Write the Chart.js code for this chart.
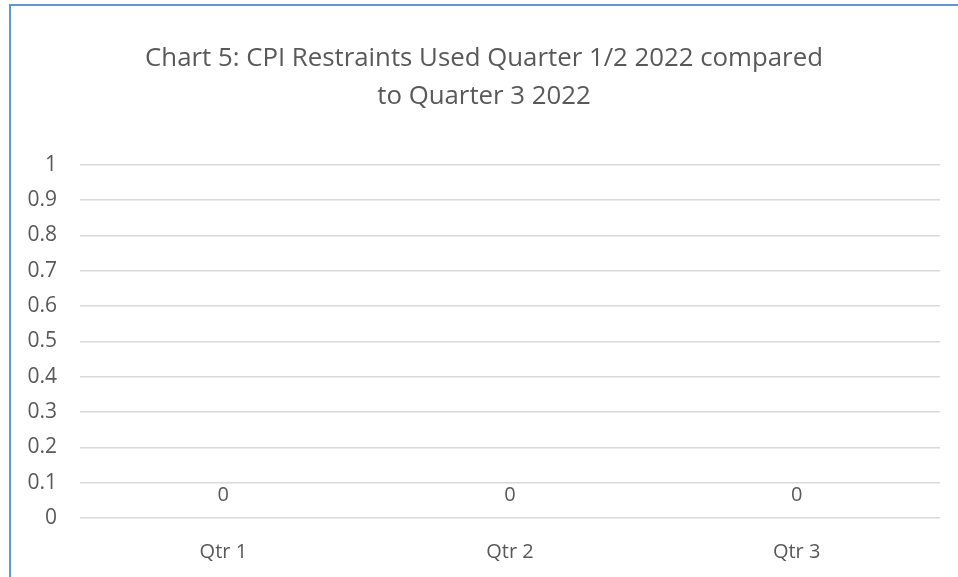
<!DOCTYPE html>
<html>
<head>
<meta charset="utf-8">
<script src="https://cdn.jsdelivr.net/npm/chart.js@4/dist/chart.umd.min.js"></script>
<style>
  html, body { margin: 0; padding: 0; background: #fff; overflow: hidden; }
  #frame {
    position: absolute; left: 9px; top: 4px; width: 1000px; height: 600px;
    border-left: 2px solid #5b9bd5; border-top: 2px solid #5b9bd5;
  }
  #wrap { position: absolute; left: 0; top: 0; width: 958px; height: 577px; }
</style>
</head>
<body>
<div id="frame"></div>
<div id="wrap"><canvas id="chart"></canvas></div>
<script>
const titleLines = ["Chart 5: CPI Restraints Used Quarter 1/2 2022 compared", "to Quarter 3 2022"];
const quarters = ["Qtr 1", "Qtr 2", "Qtr 3"];
const restraints = [0, 0, 0];
const yMin = 0;
const yMax = 1;
const yStep = 0.1;

const textColor = "#595959";
const fontFamily = "'Open Sans', 'Liberation Sans', sans-serif";

// draws the "0" value labels above each bar
const valueLabels = {
  id: "valueLabels",
  afterDatasetsDraw(chart) {
    const ctx = chart.ctx;
    const meta = chart.getDatasetMeta(0);
    ctx.save();
    ctx.font = "20px " + fontFamily;
    ctx.fillStyle = textColor;
    ctx.textAlign = "center";
    ctx.textBaseline = "middle";
    meta.data.forEach((bar, i) => {
      ctx.fillText(String(restraints[i]), bar.x, bar.y - 23);
    });
    ctx.restore();
  },
};

new Chart(document.getElementById("chart"), {
  type: "bar",
  data: {
    labels: quarters,
    datasets: [{
      label: "Restraints",
      data: restraints,
      backgroundColor: "#4472c4",
    }],
  },
  options: {
    responsive: true,
    maintainAspectRatio: false,
    animation: false,
    layout: { padding: { left: 28, right: 18, top: 0, bottom: 0 } },
    plugins: {
      legend: { display: false },
      tooltip: { enabled: false },
      title: {
        display: true,
        text: titleLines,
        color: textColor,
        font: { family: fontFamily, size: 25.8, weight: "normal", lineHeight: 1.47 },
        padding: { top: 40, bottom: 49 },
      },
    },
    scales: {
      x: {
        afterFit(axis) { axis.height = 59; },
        grid: { display: false, drawTicks: false },
        border: { display: false },
        ticks: { color: textColor, font: { family: fontFamily, size: 20 }, padding: 22 },
      },
      y: {
        min: yMin,
        max: yMax,
        afterFit(axis) { axis.width = 52; },
        grid: { color: "#d9d9d9", lineWidth: 1.5, drawTicks: false },
        border: { display: false },
        ticks: {
          stepSize: yStep,
          color: textColor,
          font: { family: fontFamily, size: 21 },
          padding: 23,
          callback: (v) => Math.round(v * 10) / 10,
        },
      },
    },
  },
  plugins: [valueLabels],
});
</script>
</body>
</html>
